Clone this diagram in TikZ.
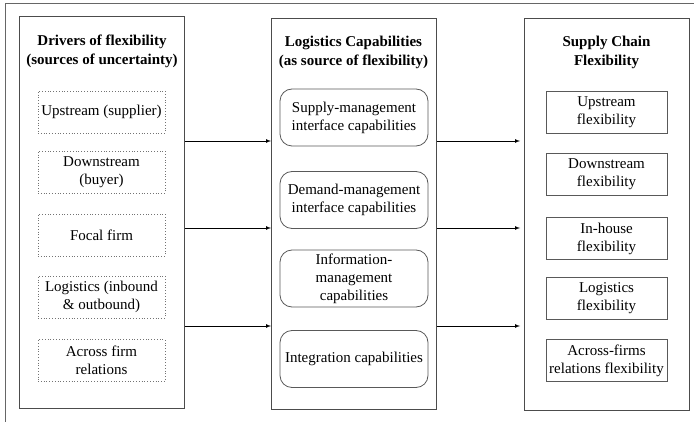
\documentclass[tikz,border=0pt]{standalone}
\usepackage{fontspec}
\setmainfont{Liberation Serif}
\begin{document}
\begin{tikzpicture}[x=1pt, y=-1pt,
  font=\fontsize{15}{18}\selectfont,
  frame/.style={draw=black!60, line width=1pt},
  column/.style={draw=black!70, line width=0.9pt, anchor=north west},
  heading/.style={align=center, font=\fontsize{15}{19}\selectfont\bfseries},
  driver/.style={draw=black!55, dotted, line width=0.8pt, minimum width=127pt, minimum height=42pt, align=center, inner sep=1pt},
  capability/.style={draw=black!65, rounded corners=12pt, line width=0.8pt, minimum width=148pt, minimum height=57pt, align=center, inner sep=1pt},
  outcome/.style={draw=black!65, line width=0.8pt, minimum width=121pt, minimum height=42pt, align=center, inner sep=1pt},
  link/.style={-latex, line width=0.7pt}]
\useasboundingbox (0,0) rectangle (694,422);
\draw[frame] (694,4) -- (5,4) -- (5,422);

% the three columns
\node[column, minimum width=165pt, minimum height=392pt] (drivers) at (19,16) {};
\node[column, minimum width=165pt, minimum height=391pt] (caps) at (271,18) {};
\node[column, minimum width=165pt, minimum height=392pt] (flex) at (524,18) {};

\node[heading] (driverstitle) at (102,51.5) {Drivers of flexibility\\(sources of uncertainty)};
\node[heading] (capstitle) at (353.5,52) {Logistics Capabilities\\(as source of flexibility)};
\node[heading] (flextitle) at (606.5,52) {Supply Chain\\Flexibility};

% drivers
\node[driver] (upstream) at (101.5,112) {Upstream (supplier)};
\node[driver] (downstream) at (101.5,172) {Downstream\\(buyer)};
\node[driver] (focal) at (101.5,235) {Focal firm};
\node[driver] (logistics) at (101.5,297) {Logistics (inbound\\\& outbound)};
\node[driver] (across) at (101.5,360.5) {Across firm\\relations};

% capabilities
\node[capability] (supplycap) at (354,117.5) {Supply-management\\interface capabilities};
\node[capability] (demandcap) at (354,200) {Demand-management\\interface capabilities};
\node[capability] (infocap) at (354,278.5) {Information-\\management\\capabilities};
\node[capability] (integcap) at (354,359) {Integration capabilities};

% flexibility
\node[outcome] (upflex) at (606.5,112) {Upstream\\flexibility};
\node[outcome] (downflex) at (606.5,174.5) {Downstream\\flexibility};
\node[outcome] (houseflex) at (606.5,238.5) {In-house\\flexibility};
\node[outcome] (logflex) at (606.5,298.5) {Logistics\\flexibility};
\node[outcome] (acrossflex) at (606.5,360.5) {Across-firms\\relations flexibility};

% links between columns
\foreach \name/\y in {top/141, mid/228, low/326} {
  \coordinate (\name) at (0,\y);
  \draw[link] (drivers.east |- \name) -- (caps.west |- \name);
  \draw[link, shorten >=4pt] (caps.east |- \name) -- (flex.west |- \name);
}
\end{tikzpicture}
\end{document}
